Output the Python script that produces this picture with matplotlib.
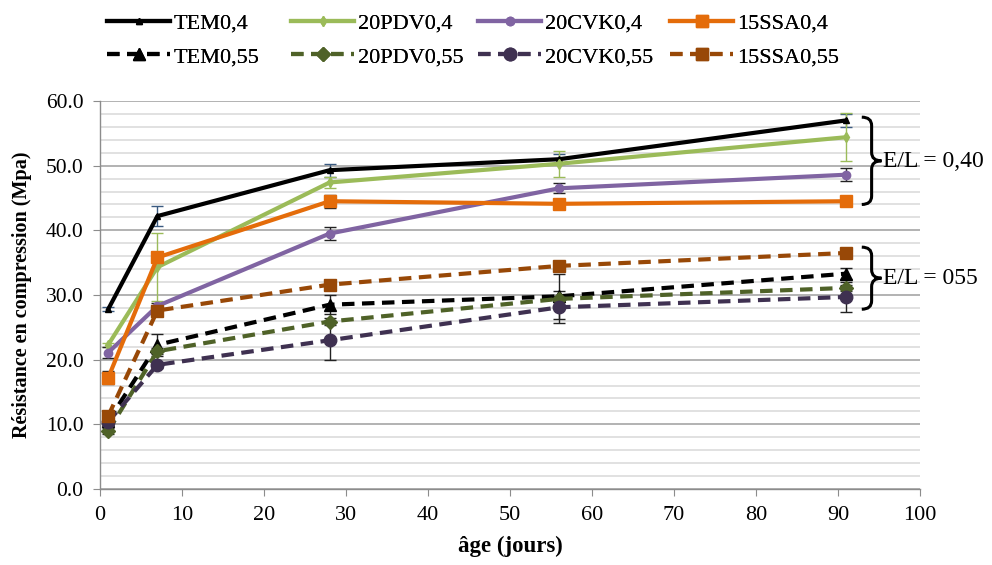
import matplotlib
matplotlib.use("Agg")
import matplotlib.pyplot as plt
from matplotlib.path import Path
from matplotlib.patches import PathPatch
from matplotlib.ticker import MultipleLocator, FormatStrFormatter

plt.rcParams['font.family'] = ['Liberation Serif', 'DejaVu Serif']

days = [1, 7, 28, 56, 91]

names = ["TEM0,4", "20PDV0,4", "20CVK0,4", "15SSA0,4",
         "TEM0,55", "20PDV0,55", "20CVK0,55", "15SSA0,55"]

tem_04 = [27.8, 42.2, 49.3, 51.0, 57.0]
pdv_04 = [22.3, 34.3, 47.4, 50.3, 54.4]
cvk_04 = [21.1, 28.3, 39.5, 46.5, 48.6]
ssa_04 = [17.2, 35.8, 44.5, 44.1, 44.5]
tem_055 = [10.5, 22.3, 28.5, 29.8, 33.3]
pdv_055 = [9.0, 21.3, 25.9, 29.4, 31.1]
cvk_055 = [10.4, 19.2, 23.0, 28.1, 29.7]
ssa_055 = [11.3, 27.6, 31.6, 34.5, 36.5]

err_tem_04 = [0.3, 1.5, 1.0, 0.8, 1.0]
err_pdv_04 = [0.3, 5.3, 0.9, 2.0, 3.7]
err_cvk_04 = [0.8, 0.5, 1.0, 0.8, 1.0]
err_ssa_04 = [1.0, 0.4, 1.0, 0.8, 0.5]
err_tem_055 = [0.5, 1.7, 1.5, 3.5, 0.8]
err_pdv_055 = [0.5, 0.5, 0.5, 0.5, 0.5]
err_cvk_055 = [0.5, 0.5, 3.0, 2.5, 2.3]
err_ssa_055 = [0.8, 0.5, 0.5, 0.5, 0.5]

values = [tem_04, pdv_04, cvk_04, ssa_04, tem_055, pdv_055, cvk_055, ssa_055]
errors = [err_tem_04, err_pdv_04, err_cvk_04, err_ssa_04,
          err_tem_055, err_pdv_055, err_cvk_055, err_ssa_055]

colors = ["#000000", "#9BBB59", "#8064A2", "#E46C0A",
          "#000000", "#4F6228", "#3F3151", "#984807"]
ecolors = ["#3A5A80", "#9BBB59", "#222222", "#222222",
           "#222222", "#222222", "#222222", "#222222"]
markers = ["^", "d", "o", "s", "^", "D", "o", "s"]
msizes = [5, 5, 6, 8, 8, 7, 9, 9]
styles = ["-", "-", "-", "-", "--", "--", "--", "--"]

fig = plt.figure(figsize=(9.92, 5.65), dpi=100)
ax = fig.add_axes([100/992, 1-489/565, 820/992, 388/565])

handles = {}
for i in range(8):
    ax.errorbar(days, values[i], yerr=errors[i], fmt='none', ecolor=ecolors[i],
                elinewidth=1.0, capsize=4, capthick=1.0, zorder=2)
    ln, = ax.plot(days, values[i], linestyle=styles[i], color=colors[i],
                  lw=3.0, marker=markers[i], markersize=msizes[i],
                  dashes=(3, 1.8) if styles[i] == "--" else (None, None),
                  zorder=3, label=names[i])
    handles[i] = ln

ax.set_xlim(0, 100)
ax.set_ylim(0, 60)
ax.xaxis.set_major_locator(MultipleLocator(10))
ax.yaxis.set_major_locator(MultipleLocator(10))
ax.yaxis.set_minor_locator(MultipleLocator(2))
ax.yaxis.set_major_formatter(FormatStrFormatter('%.1f'))
ax.grid(True, which='major', axis='y', color='#a6a6a6', lw=1.2)
ax.grid(True, which='minor', axis='y', color='#dcdcdc', lw=1.2)
ax.set_axisbelow(True)
for s in ['top', 'right']:
    ax.spines[s].set_visible(False)
for s in ['left', 'bottom']:
    ax.spines[s].set_color('#8c8c8c')
    ax.spines[s].set_linewidth(1.0)
ax.tick_params(axis='both', which='major', direction='out', length=5,
               color='#8c8c8c', pad=7)
ax.tick_params(axis='x', labelsize=16)
ax.tick_params(axis='y', labelsize=15.5)
ax.tick_params(axis='y', which='minor', length=0)
ax.set_xlabel("âge (jours)", fontsize=16.5, fontweight='bold', labelpad=8)
ax.set_ylabel("Résistance en compression (Mpa)", fontsize=14.5,
              fontweight='bold', labelpad=10)


def brace(ax, x0, y0, y1, w, d):
    xm = x0 + w / 2
    ym = (y0 + y1) / 2
    verts = [(x0, y1), (xm, y1), (xm, y1 - d),
             (xm, ym + d),
             (xm, ym), (x0 + w, ym),
             (xm, ym), (xm, ym - d),
             (xm, y0 + d),
             (xm, y0), (x0, y0)]
    codes = [Path.MOVETO, Path.CURVE3, Path.CURVE3,
             Path.LINETO,
             Path.CURVE3, Path.CURVE3,
             Path.CURVE3, Path.CURVE3,
             Path.LINETO,
             Path.CURVE3, Path.CURVE3]
    p = PathPatch(Path(verts, codes), fill=False, lw=2.2, color='black',
                  clip_on=False, zorder=4)
    ax.add_patch(p)


brace(ax, 92.9, 44.0, 57.5, 2.4, 1.3)
brace(ax, 92.9, 27.8, 37.4, 2.4, 1.3)
ax.text(95.5, 50.7, "E/L = 0,40", fontsize=17, va='center', ha='left',
        clip_on=False)
ax.text(95.5, 32.5, "E/L = 055", fontsize=17, va='center', ha='left',
        clip_on=False)

col_x = [107, 291, 478, 670]
for c in range(4):
    leg = fig.legend([handles[c], handles[c + 4]], [names[c], names[c + 4]],
                     loc='center left', bbox_to_anchor=(col_x[c] / 992, 1 - 40 / 565),
                     ncol=1, frameon=False, fontsize=16, handlelength=2.85,
                     handletextpad=0.15, labelspacing=0.6, borderpad=0,
                     borderaxespad=0)
    fig.add_artist(leg)

fig.savefig("out.png", dpi=100)
